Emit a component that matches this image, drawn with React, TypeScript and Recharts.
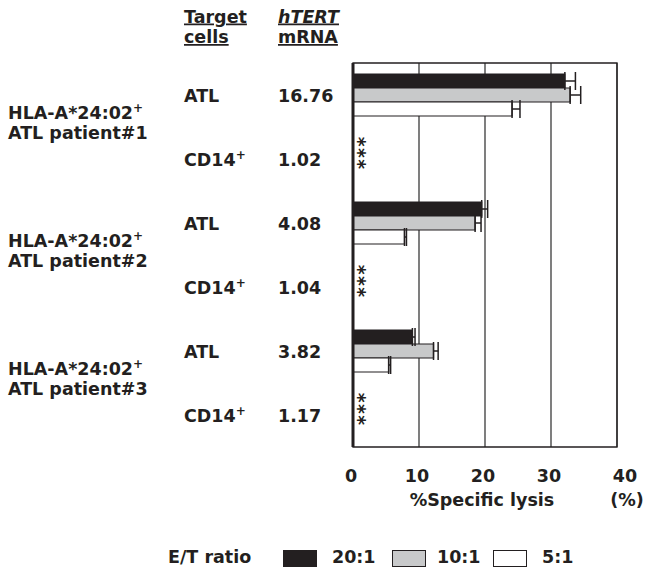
import React from 'react'
import { Bar, BarChart, CartesianGrid, ErrorBar, Legend, ReferenceArea, ReferenceLine, XAxis, YAxis } from 'recharts'

const cellTypes = ['ATL', 'CD14', 'ATL', 'CD14', 'ATL', 'CD14']
const cellSup = ['', '+', '', '+', '', '+']
const mRNA = ['16.76', '1.02', '4.08', '1.04', '3.82', '1.17']
const patients = ['ATL patient#1', 'ATL patient#2', 'ATL patient#3']
const hla = 'HLA-A*24:02'

const lysis20 = [32.1, 0, 19.5, 0, 9.0, 0]
const err20 = [1.6, 0, 0.9, 0, 0.4, 0]
const lysis10 = [32.9, 0, 18.5, 0, 12.2, 0]
const err10 = [1.6, 0, 0.9, 0, 0.7, 0]
const lysis5 = [24.1, 0, 7.8, 0, 5.4, 0]
const err5 = [1.2, 0, 0.3, 0, 0.3, 0]

const xTicks = [0, 10, 20, 30, 40]
const ratios = ['20:1', '10:1', '5:1']
const colors = ['#231f20', '#c8c9ca', '#ffffff']

const INK = '#231f20'
const FONT = '"DejaVu Sans", Verdana, sans-serif'

const data = cellTypes.map((c, i) => ({
  row: i,
  r20: lysis20[i],
  e20: [0, err20[i]],
  r10: lysis10[i],
  e10: [0, err10[i]],
  r5: lysis5[i],
  e5: [0, err5[i]],
}))

const txt = { fontFamily: FONT, fontWeight: 700, fontSize: 17.5, fill: INK }

// rows with no measurable lysis get a "*" per E/T ratio, stacked down the axis
function YTick(props: any) {
  const { y, index } = props
  const i = index
  const vals = [lysis20[i], lysis10[i], lysis5[i]]
  const stars = vals.filter((v) => v === 0).map(() => '*').join('')
  const sx = 352
  const sy = y - 22.3
  return (
    <g>
      <text x={184} y={y + 6.5} style={txt}>
        {cellTypes[i]}
        {cellSup[i] && <tspan fontSize={12} dy={-7}>{cellSup[i]}</tspan>}
      </text>
      <text x={278} y={y + 6.5} style={txt}>{mRNA[i]}</text>
      {stars && (
        <text x={sx} y={sy} transform={`rotate(90 ${sx} ${sy})`} style={{ ...txt, fontSize: 19, letterSpacing: 1.4 }}>
          {stars}
        </text>
      )}
      {i % 2 === 0 && (
        <g>
          <text x={8} y={y + 23.5} style={txt}>
            {hla}<tspan fontSize={12} dy={-7}>+</tspan>
          </text>
          <text x={8} y={y + 43.5} style={txt}>{patients[i / 2]}</text>
        </g>
      )}
    </g>
  )
}

function XTick(props: any) {
  const { x, y, payload, index } = props
  const shift = index === xTicks.length - 1 ? 8 : -2
  return (
    <text x={x + shift} y={y + 33} textAnchor="middle" style={txt}>{payload.value}</text>
  )
}

function HeaderLabel() {
  const u = { ...txt, textDecoration: 'underline' }
  return (
    <g>
      <text x={184} y={22.5} style={u}>Target</text>
      <text x={184} y={43} style={u}>cells</text>
      <text x={278} y={22.5} style={{ ...u, fontStyle: 'italic' }}>hTERT</text>
      <text x={278} y={43} style={u}>mRNA</text>
    </g>
  )
}

function AxisTitle() {
  return (
    <g>
      <text x={482} y={506} textAnchor="middle" style={txt}>%Specific lysis</text>
      <text x={627} y={506} textAnchor="middle" style={txt}>(%)</text>
    </g>
  )
}

function LegendBox() {
  const boxX = [283, 392, 493]
  const labX = [332, 437, 542]
  return (
    <div style={{ position: 'relative', width: 647, height: 24, fontFamily: FONT, fontWeight: 700, fontSize: 17.5, color: INK }}>
      <span style={{ position: 'absolute', left: 168, top: 1 }}>E/T ratio</span>
      {ratios.map((r, i) => (
        <React.Fragment key={r}>
          <span style={{ position: 'absolute', left: boxX[i], top: 4, width: 32, height: 15, background: colors[i], border: `1px solid ${INK}` }} />
          <span style={{ position: 'absolute', left: labX[i], top: 1 }}>{r}</span>
        </React.Fragment>
      ))}
    </div>
  )
}

export default function App() {
  return (
    <div style={{ position: 'absolute', left: 0, top: 0, background: '#fff' }}>
      <BarChart
        width={647}
        height={570}
        data={data}
        layout="vertical"
        margin={{ top: 63, right: 30, left: 0, bottom: 0 }}
        barCategoryGap={11}
        barGap={0}
      >
        <CartesianGrid horizontal={false} vertical={true} stroke="#3a3a3a" strokeWidth={1.3} />
        <ReferenceArea x1={0} x2={40} fill="none" stroke={INK} strokeWidth={1.3} />
        <XAxis
          type="number"
          domain={[0, 40]}
          ticks={xTicks}
          axisLine={false}
          tickLine={false}
          tickSize={0}
          height={99}
          interval={0}
          tick={<XTick />}
          label={{ content: () => <AxisTitle /> }}
        />
        <YAxis
          type="category"
          dataKey="row"
          width={353}
          axisLine={false}
          tickLine={false}
          tick={<YTick />}
          interval={0}
          label={{ content: () => <HeaderLabel /> }}
        />
        <Bar dataKey="r20" fill={colors[0]} stroke={INK} strokeWidth={1.2} isAnimationActive={false}>
          <ErrorBar dataKey="e20" direction="x" width={9} stroke={INK} strokeWidth={1.5} />
        </Bar>
        <Bar dataKey="r10" fill={colors[1]} stroke={INK} strokeWidth={1.2} isAnimationActive={false}>
          <ErrorBar dataKey="e10" direction="x" width={9} stroke={INK} strokeWidth={1.5} />
        </Bar>
        <Bar dataKey="r5" fill={colors[2]} stroke={INK} strokeWidth={1.2} isAnimationActive={false}>
          <ErrorBar dataKey="e5" direction="x" width={9} stroke={INK} strokeWidth={1.5} />
        </Bar>
        <ReferenceLine x={0} stroke={INK} strokeWidth={3} />
        <Legend verticalAlign="bottom" height={24} wrapperStyle={{ left: 0, bottom: 0, width: 647 }} content={() => <LegendBox />} />
      </BarChart>
    </div>
  )
}
